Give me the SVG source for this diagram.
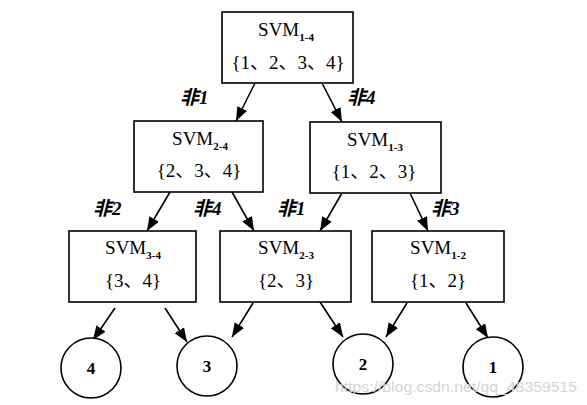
<svg xmlns="http://www.w3.org/2000/svg" width="587" height="405" viewBox="0 0 587 405">
<defs>
<marker id="ah" viewBox="0 0 14 11" refX="14" refY="5.5" markerWidth="14" markerHeight="11" markerUnits="userSpaceOnUse" orient="auto">
<path d="M0,0 L14,5.5 L0,11 Z" fill="#000"/>
</marker>
<style>
.box{fill:#fff;stroke:#000;stroke-width:1.6}
.circ{fill:#fff;stroke:#000;stroke-width:1.6}
.t{font-family:"Liberation Serif","Noto Sans CJK SC",serif;font-size:19px;fill:#000;text-anchor:middle}
.sub{font-size:11px;font-weight:bold}
.n{font-family:"Liberation Serif",serif;font-size:17px;font-weight:bold;fill:#000;text-anchor:middle}
.lbl{font-family:"Liberation Serif","Noto Sans CJK SC",serif;font-size:19px;font-style:italic;font-weight:bold;fill:#000}
.e{stroke:#000;stroke-width:1.6;fill:none;marker-end:url(#ah)}
.wm{font-family:"Liberation Sans",sans-serif;font-size:15px;fill:#d4d4d4}
</style>
</defs>
<g id="connectors">
<line class="e" x1="255" y1="83" x2="236" y2="121"/>
<line class="e" x1="322" y1="83" x2="342" y2="122"/>
<line class="e" x1="170" y1="192" x2="147" y2="231"/>
<line class="e" x1="232" y1="192" x2="254" y2="231"/>
<line class="e" x1="342" y1="193" x2="320" y2="231"/>
<line class="e" x1="410" y1="193" x2="428" y2="231"/>
<line class="e" x1="115" y1="308" x2="93" y2="340"/>
<line class="e" x1="165" y1="308" x2="187" y2="342"/>
<line class="e" x1="253" y1="303" x2="232" y2="337"/>
<line class="e" x1="320" y1="302" x2="343" y2="337"/>
<line class="e" x1="407" y1="303" x2="386" y2="337"/>
<line class="e" x1="466" y1="303" x2="488" y2="338"/>
<text class="lbl" x="180" y="104">非1</text>
<text class="lbl" x="347" y="104">非4</text>
<text class="lbl" x="93" y="215">非2</text>
<text class="lbl" x="193" y="215">非4</text>
<text class="lbl" x="277" y="215">非1</text>
<text class="lbl" x="431" y="215">非3</text>
</g>
<g id="svm14">
<rect class="box" x="222" y="12" width="131" height="71"/>
<text class="t" x="286" y="36">SVM<tspan class="sub" dy="5">1-4</tspan></text>
<text class="t" x="288" y="69">{1、2、3、4}</text>
</g>
<g id="svm24">
<rect class="box" x="134" y="121" width="129" height="71"/>
<text class="t" x="200" y="145">SVM<tspan class="sub" dy="5">2-4</tspan></text>
<text class="t" x="199" y="177">{2、3、4}</text>
</g>
<g id="svm13">
<rect class="box" x="310" y="122" width="131" height="71"/>
<text class="t" x="375" y="146">SVM<tspan class="sub" dy="5">1-3</tspan></text>
<text class="t" x="374" y="178">{1、2、3}</text>
</g>
<g id="svm34">
<rect class="box" x="69" y="231" width="127" height="71"/>
<text class="t" x="133" y="254">SVM<tspan class="sub" dy="5">3-4</tspan></text>
<text class="t" x="133" y="287">{3、4}</text>
</g>
<g id="svm23">
<rect class="box" x="220" y="231" width="131" height="71"/>
<text class="t" x="286" y="254">SVM<tspan class="sub" dy="5">2-3</tspan></text>
<text class="t" x="286" y="287">{2、3}</text>
</g>
<g id="svm12">
<rect class="box" x="372" y="231" width="132" height="71"/>
<text class="t" x="438" y="254">SVM<tspan class="sub" dy="5">1-2</tspan></text>
<text class="t" x="438" y="287">{1、2}</text>
</g>
<g id="c4">
<circle class="circ" cx="91" cy="368" r="30"/>
<text class="n" x="91" y="374">4</text>
</g>
<g id="c3">
<circle class="circ" cx="207" cy="366" r="30"/>
<text class="n" x="207" y="372">3</text>
</g>
<g id="c2">
<circle class="circ" cx="363" cy="364" r="30"/>
<text class="n" x="363" y="370">2</text>
</g>
<g id="c1">
<circle class="circ" cx="493" cy="367" r="30"/>
<text class="n" x="493" y="373">1</text>
</g>
<text class="wm" x="335" y="392" textLength="242" lengthAdjust="spacingAndGlyphs">https://blog.csdn.net/qq_48359515</text>
</svg>
